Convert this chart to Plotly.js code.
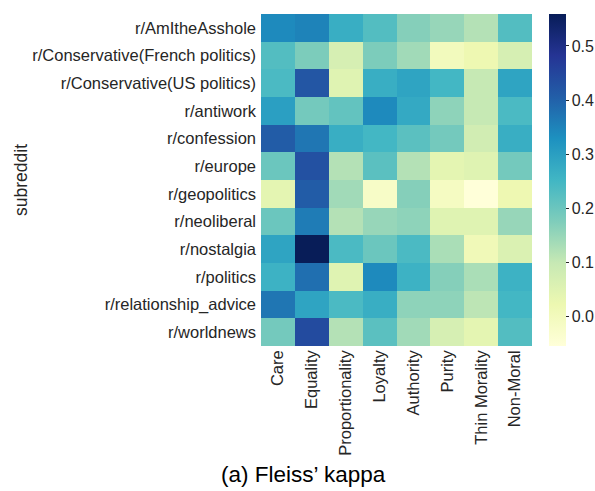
<!DOCTYPE html>
<html>
<head>
<meta charset="utf-8">
<script src="https://cdn.plot.ly/plotly-3.0.1.min.js"></script>
<style>html,body{margin:0;padding:0;background:#fff;}#chart{width:595px;height:491px;}</style>
</head>
<body>
<div id="chart"></div>
<script>
const subreddits = [
  "r/AmItheAsshole",
  "r/Conservative(French politics)",
  "r/Conservative(US politics)",
  "r/antiwork",
  "r/confession",
  "r/europe",
  "r/geopolitics",
  "r/neoliberal",
  "r/nostalgia",
  "r/politics",
  "r/relationship_advice",
  "r/worldnews"
];
const foundations = ["Care", "Equality", "Proportionality", "Loyalty", "Authority", "Purity", "Thin Morality", "Non-Moral"];

const rowAmItheAsshole   = [0.34, 0.35, 0.27, 0.23, 0.17, 0.15, 0.12, 0.23];
const rowConservativeFR  = [0.23, 0.18, 0.07, 0.18, 0.14, 0.00, 0.02, 0.07];
const rowConservativeUS  = [0.24, 0.42, 0.05, 0.27, 0.29, 0.25, 0.10, 0.29];
const rowAntiwork        = [0.30, 0.19, 0.21, 0.34, 0.28, 0.16, 0.10, 0.24];
const rowConfession      = [0.41, 0.37, 0.27, 0.25, 0.22, 0.19, 0.08, 0.27];
const rowEurope          = [0.20, 0.43, 0.12, 0.22, 0.12, 0.04, 0.05, 0.19];
const rowGeopolitics     = [0.04, 0.41, 0.14, -0.02, 0.17, -0.01, -0.054, 0.02];
const rowNeoliberal      = [0.20, 0.36, 0.12, 0.15, 0.16, 0.05, 0.05, 0.15];
const rowNostalgia       = [0.29, 0.559, 0.24, 0.20, 0.24, 0.13, 0.01, 0.06];
const rowPolitics        = [0.26, 0.38, 0.05, 0.34, 0.26, 0.17, 0.13, 0.26];
const rowRelationship    = [0.37, 0.29, 0.24, 0.27, 0.16, 0.16, 0.11, 0.25];
const rowWorldnews       = [0.19, 0.44, 0.12, 0.22, 0.14, 0.07, 0.04, 0.23];

const zValues = [rowAmItheAsshole, rowConservativeFR, rowConservativeUS, rowAntiwork, rowConfession,
  rowEurope, rowGeopolitics, rowNeoliberal, rowNostalgia, rowPolitics, rowRelationship, rowWorldnews];

const colorbarTicks = [0.0, 0.1, 0.2, 0.3, 0.4, 0.5];

const ylgnbu = [
  [0.0, "#ffffd9"], [0.125, "#edf8b1"], [0.25, "#c7e9b4"], [0.375, "#7fcdbb"],
  [0.5, "#41b6c4"], [0.625, "#1d91c0"], [0.75, "#225ea8"], [0.875, "#253494"], [1.0, "#081d58"]
];

const txt = "#262626";
const fam = "Liberation Sans, Arial, sans-serif";

Plotly.newPlot("chart", [{
  type: "heatmap",
  z: zValues,
  x: foundations,
  y: subreddits,
  zmin: -0.054,
  zmax: 0.559,
  colorscale: ylgnbu,
  xgap: 0, ygap: 0,
  colorbar: {
    thickness: 17,
    len: 1, lenmode: "fraction",
    y: 0.5, yanchor: "middle",
    x: 1, xanchor: "left", xpad: 17, ypad: 0,
    outlinewidth: 0,
    tickvals: colorbarTicks,
    ticktext: colorbarTicks.map(v => v.toFixed(1)),
    ticks: "outside", ticklen: 3, tickcolor: txt,
    tickfont: {family: fam, size: 16, color: txt}
  }
}], {
  width: 595, height: 491,
  margin: {l: 261, r: 63, t: 14, b: 145, autoexpand: false},
  paper_bgcolor: "#fff", plot_bgcolor: "#fff",
  font: {family: fam, color: txt},
  xaxis: {
    tickangle: -90, tickfont: {family: fam, size: 16.5, color: txt},
    showgrid: false, zeroline: false, ticks: "", showline: false,
    automargin: false
  },
  yaxis: {
    autorange: "reversed",
    tickfont: {family: fam, size: 16.5, color: txt},
    showgrid: false, zeroline: false, ticks: "", showline: false,
    automargin: false,
    ticklabelstandoff: 4,
    title: {text: "subreddit", font: {family: fam, size: 17.5, color: txt}, standoff: 0}
  },
  annotations: [{
    text: "(a) Fleiss’ kappa",
    xref: "paper", yref: "paper",
    x: 0.155, y: -0.432, xanchor: "center", yanchor: "bottom",
    showarrow: false,
    font: {family: fam, size: 22.5, color: "#000"}
  }]
}, {displayModeBar: false, staticPlot: true});
</script>
</body>
</html>
